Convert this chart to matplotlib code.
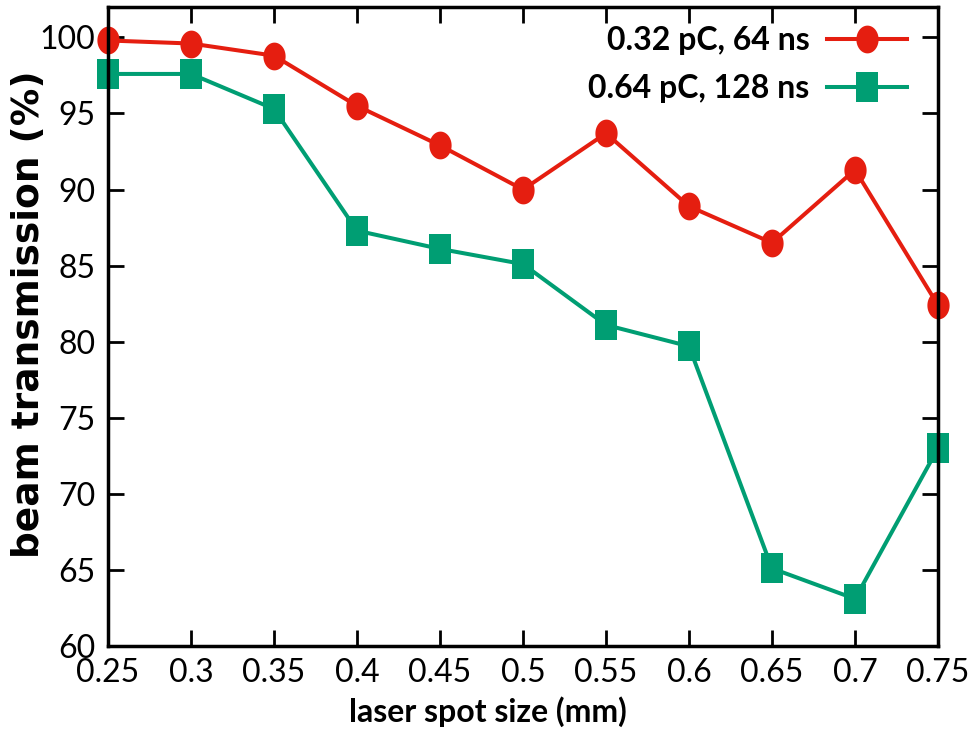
import numpy as np
import matplotlib
matplotlib.use("Agg")
import matplotlib.pyplot as plt
from matplotlib.path import Path

# Data
spot_size = [0.25, 0.30, 0.35, 0.40, 0.45, 0.50, 0.55, 0.60, 0.65, 0.70, 0.75]
trans_032 = [99.8, 99.6, 98.8, 95.5, 92.9, 90.0, 93.7, 88.9, 86.5, 91.3, 82.4]
trans_064 = [97.6, 97.6, 95.3, 87.3, 86.1, 85.1, 81.1, 79.7, 65.1, 63.1, 73.0]
label_032 = "0.32 pC, 64 ns"
label_064 = "0.64 pC, 128 ns"
xticks = [0.25, 0.3, 0.35, 0.4, 0.45, 0.5, 0.55, 0.6, 0.65, 0.7, 0.75]
xtick_labels = ["0.25", "0.3", "0.35", "0.4", "0.45", "0.5", "0.55", "0.6", "0.65", "0.7", "0.75"]
yticks = [60, 65, 70, 75, 80, 85, 90, 95, 100]

RED = "#e51e10"
GREEN = "#009e73"
FONT = ["Lato", "DejaVu Sans"]

# elongated markers (reference image is horizontally squeezed)
t = np.linspace(0, 2 * np.pi, 60)
ell = Path(np.column_stack([0.40 * np.cos(t), 0.5 * np.sin(t)]), closed=True)
sq = Path([(-0.38, -0.5), (0.38, -0.5), (0.38, 0.5), (-0.38, 0.5), (-0.38, -0.5)], closed=True)

fig = plt.figure(figsize=(9.74, 7.5), dpi=100)
ax = fig.add_axes([108 / 974, 1 - 646 / 750, 830 / 974, 639 / 750])

ax.plot(spot_size, trans_032, color=RED, lw=2.9, marker=ell, markersize=20,
        markeredgewidth=0, label=label_032, clip_on=False, zorder=3)
ax.plot(spot_size, trans_064, color=GREEN, lw=2.9, marker=sq, markersize=21,
        markeredgewidth=0, label=label_064, clip_on=False, zorder=3)

ax.set_xlim(0.25, 0.75)
ax.set_ylim(60, 102)
ax.set_xticks(xticks)
ax.set_xticklabels(xtick_labels)
ax.set_yticks(yticks)

for sp in ax.spines.values():
    sp.set_linewidth(2.5)
    sp.set_zorder(4)
ax.tick_params(direction="in", length=11.5, width=2, top=True, right=True,
               labelsize=23, pad=9)
for lab in ax.get_xticklabels() + ax.get_yticklabels():
    lab.set_family(FONT)

ax.set_xlabel("laser spot size (mm)", fontsize=23, fontweight="bold", family=FONT)
ax.xaxis.set_label_coords(0.458, -0.078)
ax.xaxis.label.set_verticalalignment("top")
ax.set_ylabel("beam transmission (%)", fontsize=27, fontweight="bold", family="DejaVu Sans")
ax.yaxis.set_label_coords(-0.074, 0.52)

leg = ax.legend(loc="upper right", bbox_to_anchor=(0.9627, 0.97), markerfirst=False,
                frameon=False, borderaxespad=0, borderpad=0, handlelength=2.5,
                handletextpad=0.55, labelspacing=0.58,
                prop={"family": FONT, "weight": "bold", "size": 23})

fig.savefig("out.png", dpi=100)
